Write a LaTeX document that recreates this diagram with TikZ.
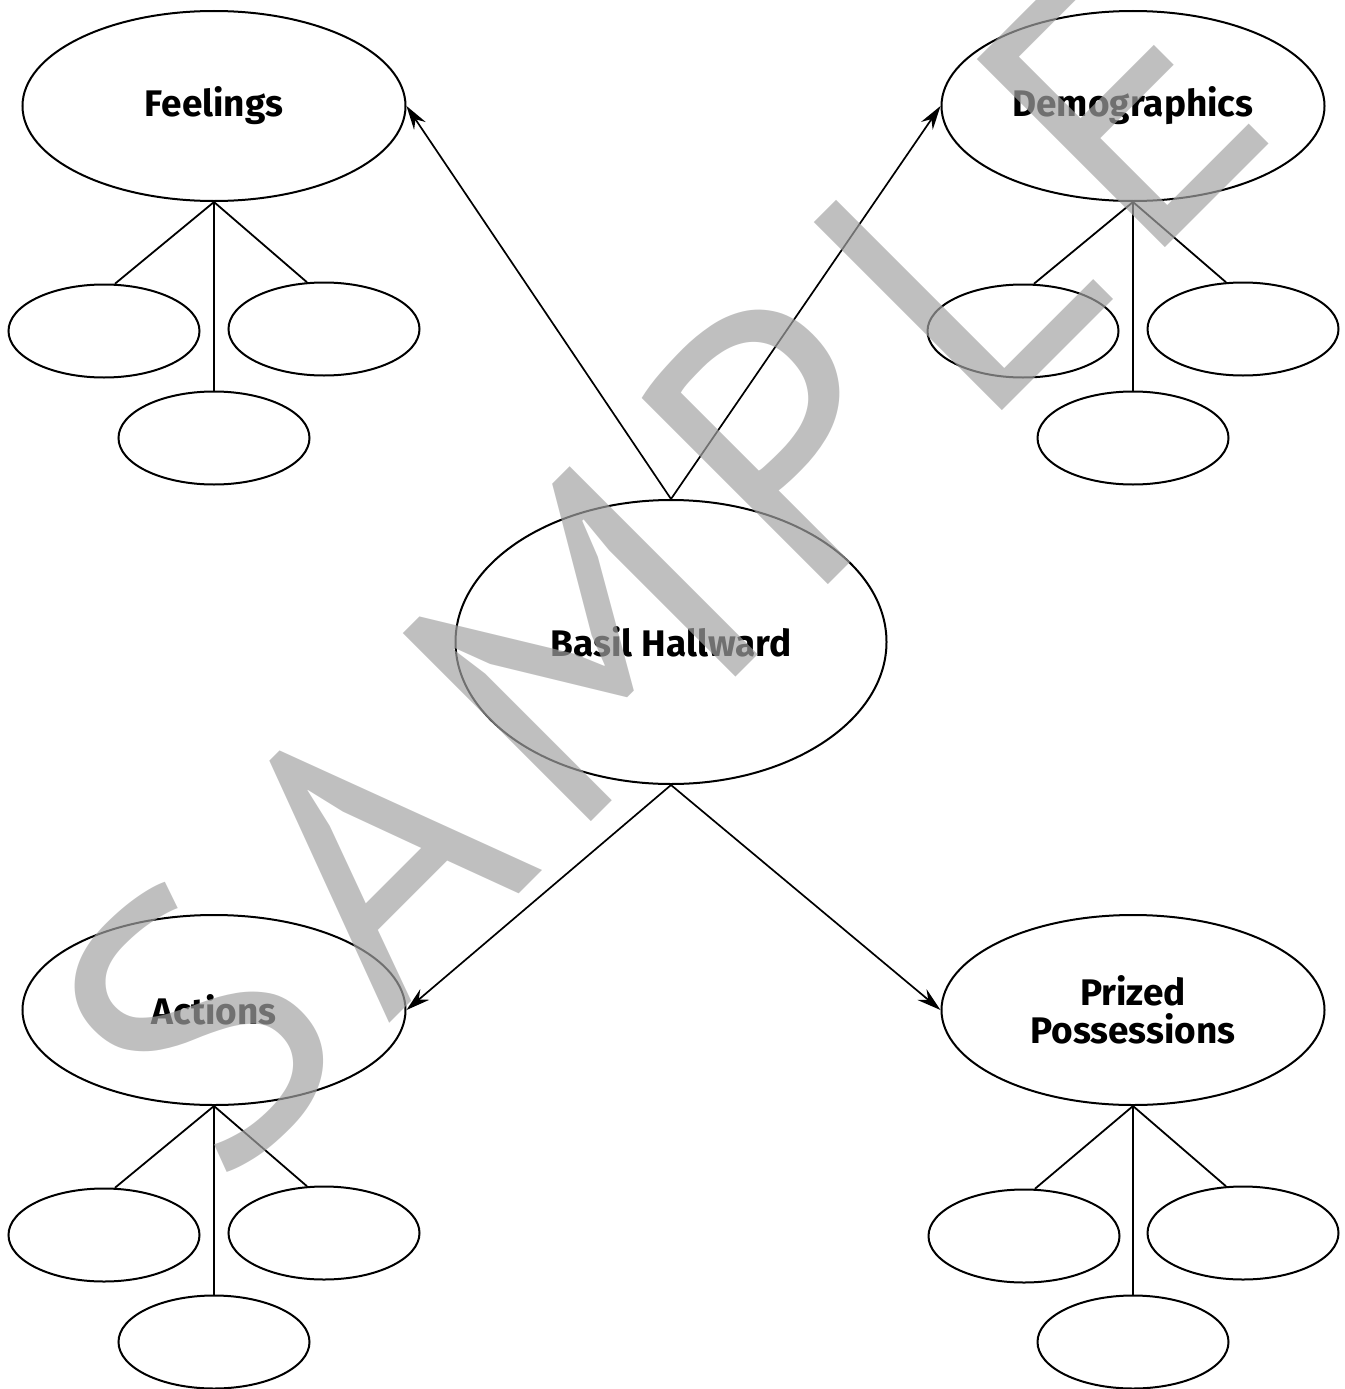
\documentclass[tikz,border=0pt]{standalone}
\usepackage{fontspec}
\setmainfont{Fira Sans}
\newfontfamily\markfont{PT Sans}
\usetikzlibrary{shapes.geometric,arrows.meta}
\definecolor{markgray}{gray}{0.64}
\newcommand{\markgap}{\kern34pt}
\tikzset{
  big/.style={draw,ellipse,line width=2pt,minimum width=383pt,minimum height=190pt,
    inner sep=0pt,align=center,font=\fontsize{37}{38}\selectfont\bfseries},
  hub/.style={big,minimum width=431pt,minimum height=284pt},
  leaf/.style={draw,ellipse,line width=2pt,minimum width=191pt,minimum height=93pt,inner sep=0pt},
  link/.style={line width=1.7pt,-{Stealth[length=24pt,width=14pt,inset=8pt]}},
  twig/.style={line width=1.8pt}
}
\begin{document}
\begin{tikzpicture}[x=1pt,y=-1pt]
  \useasboundingbox (0,0) rectangle (1344,1389);
  \draw
    (671,642) node[hub] (basil){Basil Hallward}
    (214,106) node[big] (feel){Feelings}
    (1133,106) node[big] (demo){Demographics}
    (214,1010) node[big] (act){Actions}
    (1133,1010) node[big] (prize){Prized\\Possessions};
  \draw
    (104,331) node[leaf] (feel1){}
    (324,329) node[leaf] (feel2){}
    (214,438) node[leaf] (feel3){}
    (1023,331) node[leaf] (demo1){}
    (1243,329) node[leaf] (demo2){}
    (1133,438) node[leaf] (demo3){}
    (104,1235) node[leaf] (act1){}
    (324,1233) node[leaf] (act2){}
    (214,1342) node[leaf] (act3){}
    (1024,1236) node[leaf] (prize1){}
    (1243,1233) node[leaf] (prize2){}
    (1133,1342) node[leaf] (prize3){};
  \begin{scope}[link]
    \draw (basil.north) to (feel.east);
    \draw (basil.north) to (demo.west);
    \draw (basil.south) to (act.east);
    \draw (basil.south) to (prize.west);
  \end{scope}
  \begin{scope}[twig]
    \draw (feel.south) to (feel1.77);
    \draw (feel.south) to (feel2.110);
    \draw (feel.south) to (feel3.north);
    \draw (demo.south) to (demo1.77);
    \draw (demo.south) to (demo2.110);
    \draw (demo.south) to (demo3.north);
    \draw (act.south) to (act1.77);
    \draw (act.south) to (act2.110);
    \draw (act.south) to (act3.north);
    \draw (prize.south) to (prize1.77);
    \draw (prize.south) to (prize2.110);
    \draw (prize.south) to (prize3.north);
  \end{scope}
  % watermark
  \node[rotate=45,text=markgray,text opacity=0.69,inner sep=0pt,
    font=\markfont\fontsize{380}{380}\selectfont] (mark) at (660,565)
    {S\markgap A\markgap M\markgap P\markgap L\markgap E};
\end{tikzpicture}
\end{document}
